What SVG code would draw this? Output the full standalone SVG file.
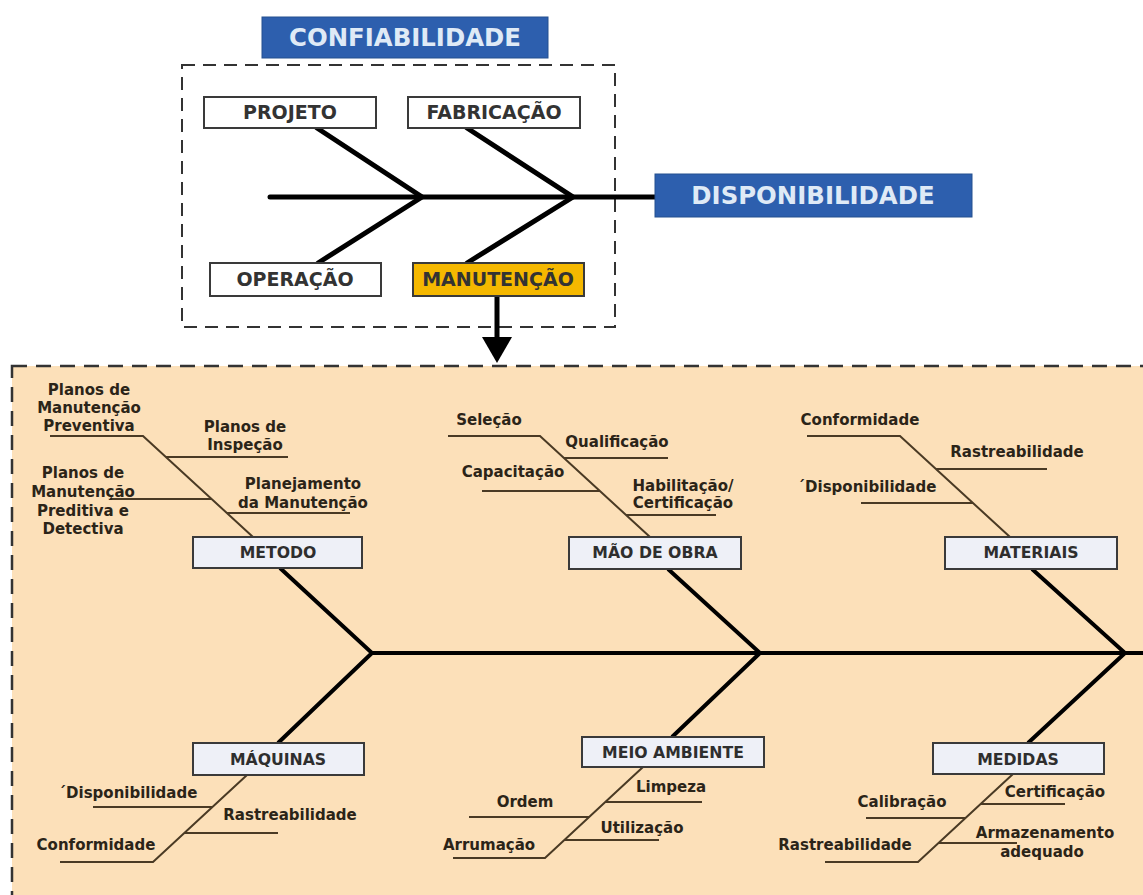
<svg xmlns="http://www.w3.org/2000/svg" width="1143" height="895" viewBox="0 0 1143 895">
<style>
text{font-family:"DejaVu Sans","Liberation Sans",sans-serif;font-weight:bold;text-anchor:middle}
.blue{fill:#2d5fae;stroke:#24508f;stroke-width:1}
.bt{fill:#dfeaf6;font-size:24.4px}
.tb{fill:#fff;stroke:#3a3a3a;stroke-width:2}
.tt{fill:#333;font-size:19px}
.cb{fill:#eef0f7;stroke:#3a3a3a;stroke-width:2}
.ct{fill:#2e2e2e;font-size:15.7px}
.st{fill:#2b2418;font-size:15px}
.thick{stroke:#000;stroke-width:5;fill:none;stroke-linecap:round}
.bone{stroke:#000;stroke-width:4;fill:none}
.thin{stroke:#4a3a24;stroke-width:2;fill:none}
.dash{fill:none;stroke:#333;stroke-width:2;stroke-dasharray:13 8}
</style>
<rect x="0" y="0" width="1143" height="895" fill="#fff"/>
<rect x="12" y="366" width="1150" height="560" fill="#fce0b9" stroke="#333" stroke-width="2.5" stroke-dasharray="15 9"/>
<rect class="dash" x="182" y="65" width="433" height="262"/>

<g id="connectors">
  <path class="thick" d="M270,197 H655"/>
  <path class="thick" d="M317,128 L422,197 L318,263"/>
  <path class="thick" d="M467,128 L573,197 L467,263"/>
  <path class="thick" d="M497,296 V338" stroke-linecap="butt"/>
  <polygon points="482,337 512,337 497,363" fill="#000"/>
  <path class="bone" d="M372,653 H1143"/>
  <path class="bone" d="M280,568 L372,653 L278,743"/>
  <path class="bone" d="M668,569 L760,653 L672,737"/>
  <path class="bone" d="M1032,569 L1125,653 L1028,743"/>
  <path class="thin" d="M50,436 H143 L253,537 M166,457 H288 M110,499 H212 M227,513 H350"/>
  <path class="thin" d="M448,436 H540 L650,537 M564,458 H668 M482,491 H600 M626,515 H716"/>
  <path class="thin" d="M807,436 H900 L1010,537 M936,469 H1047 M861,503 H973"/>
  <path class="thin" d="M247,775 L153,862 H60 M93,807 H212 M184,833 H278"/>
  <path class="thin" d="M643,767 L545,858 H453 M605,802 H702 M469,817 H589 M564,840 H659"/>
  <path class="thin" d="M1013,774 L918,862 H825 M981,804 H1065 M866,818 H966 M938,843 H1017"/>
</g>

<g id="confiabilidade"><rect class="blue" x="262" y="17" width="286" height="41"/><text class="bt" x="405" y="46">CONFIABILIDADE</text></g>
<g id="disponibilidade"><rect class="blue" x="655" y="174" width="317" height="43"/><text class="bt" x="813" y="204">DISPONIBILIDADE</text></g>
<g id="projeto"><rect class="tb" x="204" y="97" width="172" height="31"/><text class="tt" x="290" y="119">PROJETO</text></g>
<g id="fabricacao"><rect class="tb" x="408" y="97" width="172" height="31"/><text class="tt" x="494" y="119">FABRICAÇÃO</text></g>
<g id="operacao"><rect class="tb" x="210" y="263" width="171" height="33"/><text class="tt" x="295" y="286">OPERAÇÃO</text></g>
<g id="manutencao"><rect x="413" y="263" width="171" height="33" fill="#f5b800" stroke="#3a3a3a" stroke-width="2"/><text class="tt" x="498" y="286">MANUTENÇÃO</text></g>

<g id="metodo">
  <rect class="cb" x="193" y="537" width="169" height="31"/><text class="ct" x="278" y="558">METODO</text>
  <text class="st" x="89" y="395">Planos de</text><text class="st" x="89" y="413">Manutenção</text><text class="st" x="89" y="431">Preventiva</text>
  <text class="st" x="245" y="432">Planos de</text><text class="st" x="245" y="450">Inspeção</text>
  <text class="st" x="83" y="478">Planos de</text><text class="st" x="83" y="497">Manutenção</text><text class="st" x="83" y="516">Preditiva e</text><text class="st" x="83" y="534">Detectiva</text>
  <text class="st" x="303" y="489">Planejamento</text><text class="st" x="303" y="508">da Manutenção</text>
</g>
<g id="mao-de-obra">
  <rect class="cb" x="569" y="537" width="172" height="32"/><text class="ct" x="655" y="558">MÃO DE OBRA</text>
  <text class="st" x="489" y="425">Seleção</text>
  <text class="st" x="617" y="447">Qualificação</text>
  <text class="st" x="513" y="477">Capacitação</text>
  <text class="st" x="683" y="491">Habilitação/</text><text class="st" x="683" y="508">Certificação</text>
</g>
<g id="materiais">
  <rect class="cb" x="945" y="537" width="172" height="32"/><text class="ct" x="1031" y="558">MATERIAIS</text>
  <text class="st" x="860" y="425">Conformidade</text>
  <text class="st" x="1017" y="457">Rastreabilidade</text>
  <text class="st" x="867" y="492">´Disponibilidade</text>
</g>
<g id="maquinas">
  <rect class="cb" x="193" y="743" width="171" height="32"/><text class="ct" x="278" y="765">MÁQUINAS</text>
  <text class="st" x="128" y="798">´Disponibilidade</text>
  <text class="st" x="290" y="820">Rastreabilidade</text>
  <text class="st" x="96" y="850">Conformidade</text>
</g>
<g id="meio-ambiente">
  <rect class="cb" x="582" y="737" width="182" height="30"/><text class="ct" x="673" y="758">MEIO AMBIENTE</text>
  <text class="st" x="671" y="792">Limpeza</text>
  <text class="st" x="525" y="807">Ordem</text>
  <text class="st" x="642" y="833">Utilização</text>
  <text class="st" x="489" y="850">Arrumação</text>
</g>
<g id="medidas">
  <rect class="cb" x="933" y="743" width="171" height="31"/><text class="ct" x="1018" y="765">MEDIDAS</text>
  <text class="st" x="1055" y="797">Certificação</text>
  <text class="st" x="902" y="807">Calibração</text>
  <text class="st" x="1045" y="838">Armazenamento</text><text class="st" x="1042" y="857">adequado</text>
  <text class="st" x="845" y="850">Rastreabilidade</text>
</g>
</svg>
